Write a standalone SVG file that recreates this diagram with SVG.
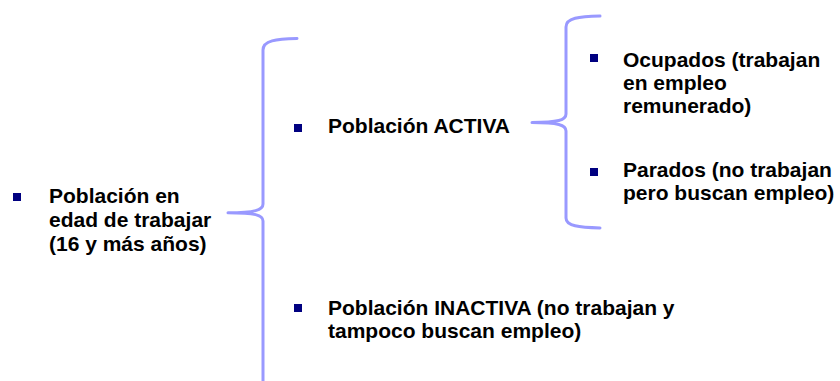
<svg xmlns="http://www.w3.org/2000/svg" width="840" height="381" viewBox="0 0 840 381">
<style>
  .t { font-family: "Liberation Sans", Arial, sans-serif; font-weight: bold; font-size: 21px; fill: #000000; }
  .b { fill: #000080; }
  .brace { fill: none; stroke: #9999FF; stroke-width: 3; stroke-linecap: round; stroke-linejoin: round; }
</style>
<rect x="0" y="0" width="840" height="381" fill="#FFFFFF"/>
<g id="connectors">
  <path class="brace" d="M297,38.5 C276,39 263,40.5 263,50 L263,204 C263,210 255,212.7 228,212.7 C255,212.7 263,215 263,221 L263,383"/>
  <path class="brace" d="M600,16 C579,16.5 566,18 566,27 L566,114 C566,120 558,122.5 532,122.5 C558,122.5 566,125 566,131 L566,218 C566,226 579,227.5 600,228"/>
</g>
<g id="node-edad">
  <rect class="b" x="13" y="193" width="8" height="8"/>
  <text class="t" x="49" y="203">Población en</text>
  <text class="t" x="49" y="227">edad de trabajar</text>
  <text class="t" x="49" y="251">(16 y más años)</text>
</g>
<g id="node-activa">
  <rect class="b" x="294" y="124" width="8" height="8"/>
  <text class="t" x="328" y="133">Población ACTIVA</text>
</g>
<g id="node-ocupados">
  <rect class="b" x="590" y="54" width="8" height="8"/>
  <text class="t" x="623" y="67">Ocupados (trabajan</text>
  <text class="t" x="623" y="90">en empleo</text>
  <text class="t" x="623" y="113">remunerado)</text>
</g>
<g id="node-parados">
  <rect class="b" x="590" y="168" width="8" height="8"/>
  <text class="t" x="623" y="177">Parados (no trabajan</text>
  <text class="t" x="623" y="200">pero buscan empleo)</text>
</g>
<g id="node-inactiva">
  <rect class="b" x="294" y="304" width="8" height="8"/>
  <text class="t" x="328" y="315">Población INACTIVA (no trabajan y</text>
  <text class="t" x="328" y="338">tampoco buscan empleo)</text>
</g>
</svg>
